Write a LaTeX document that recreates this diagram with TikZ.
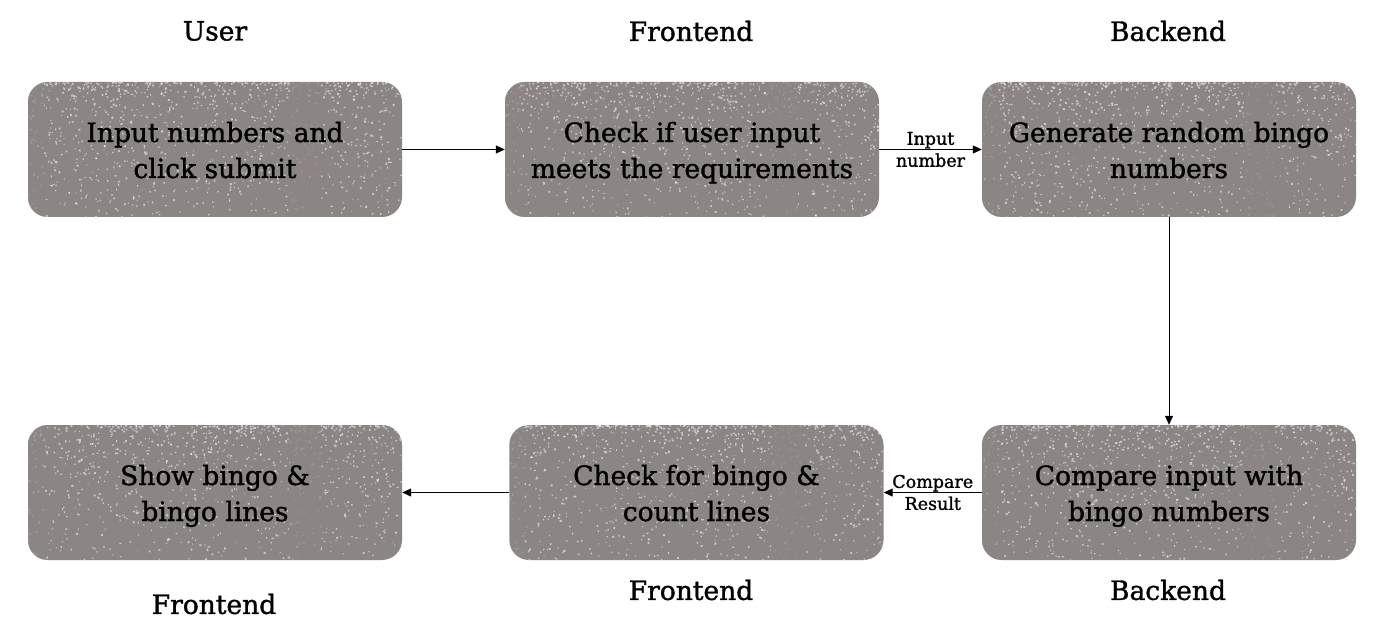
\documentclass[tikz,border=0pt]{standalone}
\usepackage{fontspec}
\setmainfont{DejaVu Serif}[FakeBold=1.3]
\usetikzlibrary{arrows.meta,calc}

\definecolor{boxgray}{RGB}{139,133,132}

\tikzset{
  stepbox/.style={
    fill=boxgray, draw=none, rounded corners=20pt,
    minimum width=374pt, minimum height=135pt, inner sep=0pt
  },
  steptext/.style={
    align=center, text=black, inner sep=0pt, yshift=-3.3pt,
    font=\fontsize{26.5}{36}\selectfont
  },
  lane/.style={font=\fontsize{26.5}{30}\selectfont, text=black},
  flow/.style={draw=black, line width=1pt, -{Triangle[length=9pt,width=8pt]}},
  tag/.style={font=\fontsize{17.5}{22}\selectfont, align=center, text=black, inner sep=0pt}
}

% worn, grainy finish laid over a step box
\newcommand{\graincoat}[1]{%
  \begin{scope}
    \clip[rounded corners=20pt] (#1.south west) rectangle (#1.north east);
    \foreach \c in {1,2}{
      \fill[white,opacity=0.55] foreach \k in {1,...,450}{
        ($(#1.north west)+({374*rnd},{135*(rnd^2)})$) rectangle ++({0.9+1.2*rnd},{0.9+1.2*rnd})
      };
    }
    \fill[white,opacity=0.4] foreach \k in {1,...,200}{
      ($(#1.north west)+({374*rnd},{135*rnd})$) rectangle ++({0.8+1.0*rnd},{0.8+1.0*rnd})
    };
    \fill[boxgray,opacity=0.7] ($(#1.north)+(75,0)$) rectangle ($(#1.south)+(106,0)$);
    \fill[boxgray,opacity=0.6] (#1.north west) rectangle ($(#1.south west)+(16,0)$);
  \end{scope}}

\newcommand{\capline}[1]{\strut#1}

\begin{document}
\begin{tikzpicture}[x=1pt,y=-1pt]
  \pgfmathsetseed{4211}
  \useasboundingbox (0,0) rectangle (1378,628);

  % lane titles
  \node[lane] (t1) at (215,31) {User};
  \node[lane] (t2) at (691,31) {Frontend};
  \node[lane] (t3) at (1168,31) {Backend};
  \node[lane] (t4) at (214,604) {Frontend};
  \node[lane] (t5) at (691,590) {Frontend};
  \node[lane] (t6) at (1168,590) {Backend};

  % process step boxes
  \node[stepbox] (b1) at (215,149.5) {};
  \node[stepbox] (b2) at (692,149.5) {};
  \node[stepbox] (b3) at (1169,149.5) {};
  \node[stepbox] (b4) at (215,492.5) {};
  \node[stepbox] (b5) at (696.5,492.5) {};
  \node[stepbox] (b6) at (1169,492.5) {};
  \foreach \b in {b1,b2,b3,b4,b5,b6}{\graincoat{\b}}

  % step captions
  \node[steptext] (s1) at (b1) {\capline{Input numbers and}\\\capline{click submit}};
  \node[steptext] (s2) at (b2) {\capline{Check if user input}\\\capline{meets the requirements}};
  \node[steptext] (s3) at (b3) {\capline{Generate random bingo}\\\capline{numbers}};
  \node[steptext] (s4) at (b4) {\capline{Show bingo \&}\\\capline{bingo lines}};
  \node[steptext] (s5) at (b5) {\capline{Check for bingo \&}\\\capline{count lines}};
  \node[steptext] (s6) at (b6) {\capline{Compare input with}\\\capline{bingo numbers}};

  % connectors
  \draw[flow] (b1.east) -- (b2.west);
  \draw[flow] (b2.east) -- (b3.west);
  \node[tag] (l1) at ($(b2.east)!0.5!(b3.west)$) {Input\\number};
  \draw[flow] (b3.south) -- (b6.north);
  \draw[flow] (b6.west) -- (b5.east);
  \node[tag] (l2) at ($(b6.west)!0.5!(b5.east)$) {Compare\\Result};
  \draw[flow] (b5.west) -- (b4.east);
\end{tikzpicture}
\end{document}
